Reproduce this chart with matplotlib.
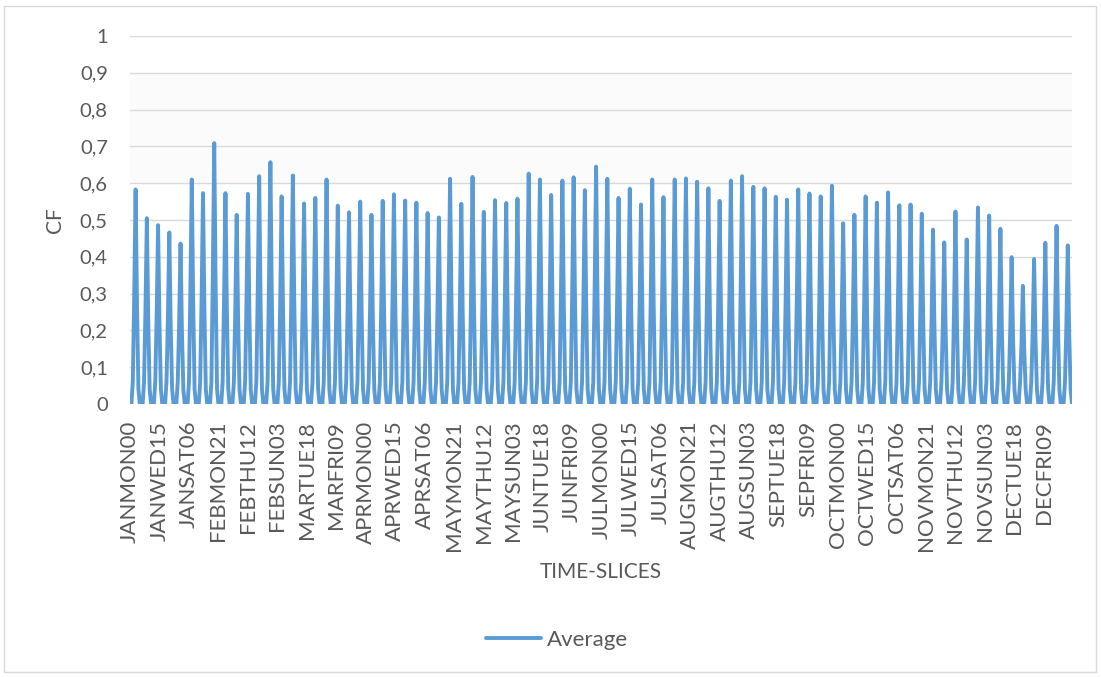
import matplotlib
matplotlib.use("Agg")
import matplotlib.pyplot as plt
from matplotlib.patches import Rectangle

plt.rcParams["font.family"] = ["Lato", "DejaVu Sans"]

# --- Datos: CF promedio por time-slice (8 franjas de 3 h por dia, 7 dias por mes) ---
months = ["JAN", "FEB", "MAR", "APR", "MAY", "JUN",
          "JUL", "AUG", "SEP", "OCT", "NOV", "DEC"]
days = ["MON", "TUE", "WED", "THU", "FRI", "SAT", "SUN"]
hours = ["00", "03", "06", "09", "12", "15", "18", "21"]

cf_jan = [0, 0, 0.06, 0.292, 0.583, 0.262, 0.04, 0,
          0, 0, 0.06, 0.253, 0.505, 0.227, 0.04, 0,
          0, 0, 0.06, 0.243, 0.486, 0.219, 0.04, 0,
          0, 0, 0.06, 0.233, 0.466, 0.210, 0.04, 0,
          0, 0, 0.06, 0.218, 0.436, 0.196, 0.04, 0,
          0, 0, 0.06, 0.305, 0.610, 0.275, 0.04, 0,
          0, 0, 0.06, 0.287, 0.573, 0.258, 0.04, 0]
cf_feb = [0, 0, 0.06, 0.355, 0.709, 0.319, 0.04, 0,
          0, 0, 0.06, 0.287, 0.573, 0.258, 0.04, 0,
          0, 0, 0.06, 0.257, 0.514, 0.231, 0.04, 0,
          0, 0, 0.06, 0.286, 0.571, 0.257, 0.04, 0,
          0, 0, 0.06, 0.310, 0.619, 0.279, 0.04, 0,
          0, 0, 0.06, 0.329, 0.657, 0.296, 0.04, 0,
          0, 0, 0.06, 0.282, 0.564, 0.254, 0.04, 0]
cf_mar = [0, 0, 0.06, 0.311, 0.621, 0.279, 0.04, 0,
          0, 0, 0.06, 0.273, 0.545, 0.245, 0.04, 0,
          0, 0, 0.06, 0.280, 0.560, 0.252, 0.04, 0,
          0, 0, 0.06, 0.305, 0.610, 0.275, 0.04, 0,
          0, 0, 0.06, 0.270, 0.539, 0.243, 0.04, 0,
          0, 0, 0.06, 0.261, 0.521, 0.234, 0.04, 0,
          0, 0, 0.06, 0.275, 0.550, 0.248, 0.04, 0]
cf_apr = [0, 0, 0.06, 0.257, 0.514, 0.231, 0.04, 0,
          0, 0, 0.06, 0.276, 0.552, 0.248, 0.04, 0,
          0, 0, 0.06, 0.285, 0.570, 0.257, 0.04, 0,
          0, 0, 0.06, 0.277, 0.553, 0.249, 0.04, 0,
          0, 0, 0.06, 0.274, 0.547, 0.246, 0.04, 0,
          0, 0, 0.06, 0.260, 0.519, 0.234, 0.04, 0,
          0, 0, 0.06, 0.254, 0.507, 0.228, 0.04, 0]
cf_may = [0, 0, 0.06, 0.306, 0.612, 0.275, 0.04, 0,
          0, 0, 0.06, 0.272, 0.544, 0.245, 0.04, 0,
          0, 0, 0.06, 0.309, 0.617, 0.278, 0.04, 0,
          0, 0, 0.06, 0.261, 0.522, 0.235, 0.04, 0,
          0, 0, 0.06, 0.277, 0.554, 0.249, 0.04, 0,
          0, 0, 0.06, 0.273, 0.546, 0.246, 0.04, 0,
          0, 0, 0.06, 0.279, 0.558, 0.251, 0.04, 0]
cf_jun = [0, 0, 0.06, 0.313, 0.626, 0.282, 0.04, 0,
          0, 0, 0.06, 0.305, 0.610, 0.275, 0.04, 0,
          0, 0, 0.06, 0.284, 0.568, 0.256, 0.04, 0,
          0, 0, 0.06, 0.304, 0.607, 0.273, 0.04, 0,
          0, 0, 0.06, 0.308, 0.616, 0.277, 0.04, 0,
          0, 0, 0.06, 0.291, 0.581, 0.261, 0.04, 0,
          0, 0, 0.06, 0.323, 0.645, 0.290, 0.04, 0]
cf_jul = [0, 0, 0.06, 0.306, 0.612, 0.275, 0.04, 0,
          0, 0, 0.06, 0.280, 0.560, 0.252, 0.04, 0,
          0, 0, 0.06, 0.293, 0.585, 0.263, 0.04, 0,
          0, 0, 0.06, 0.271, 0.542, 0.244, 0.04, 0,
          0, 0, 0.06, 0.305, 0.610, 0.275, 0.04, 0,
          0, 0, 0.06, 0.281, 0.562, 0.253, 0.04, 0,
          0, 0, 0.06, 0.305, 0.610, 0.275, 0.04, 0]
cf_aug = [0, 0, 0.06, 0.307, 0.613, 0.276, 0.04, 0,
          0, 0, 0.06, 0.302, 0.604, 0.272, 0.04, 0,
          0, 0, 0.06, 0.293, 0.586, 0.264, 0.04, 0,
          0, 0, 0.06, 0.276, 0.552, 0.248, 0.04, 0,
          0, 0, 0.06, 0.304, 0.607, 0.273, 0.04, 0,
          0, 0, 0.06, 0.310, 0.619, 0.279, 0.04, 0,
          0, 0, 0.06, 0.295, 0.590, 0.266, 0.04, 0]
cf_sep = [0, 0, 0.06, 0.293, 0.586, 0.264, 0.04, 0,
          0, 0, 0.06, 0.282, 0.563, 0.253, 0.04, 0,
          0, 0, 0.06, 0.278, 0.555, 0.250, 0.04, 0,
          0, 0, 0.06, 0.292, 0.583, 0.262, 0.04, 0,
          0, 0, 0.06, 0.286, 0.572, 0.257, 0.04, 0,
          0, 0, 0.06, 0.282, 0.564, 0.254, 0.04, 0,
          0, 0, 0.06, 0.297, 0.593, 0.267, 0.04, 0]
cf_oct = [0, 0, 0.06, 0.246, 0.491, 0.221, 0.04, 0,
          0, 0, 0.06, 0.257, 0.514, 0.231, 0.04, 0,
          0, 0, 0.06, 0.282, 0.564, 0.254, 0.04, 0,
          0, 0, 0.06, 0.274, 0.547, 0.246, 0.04, 0,
          0, 0, 0.06, 0.288, 0.575, 0.259, 0.04, 0,
          0, 0, 0.06, 0.270, 0.540, 0.243, 0.04, 0,
          0, 0, 0.06, 0.271, 0.542, 0.244, 0.04, 0]
cf_nov = [0, 0, 0.06, 0.259, 0.517, 0.233, 0.04, 0,
          0, 0, 0.06, 0.237, 0.474, 0.213, 0.04, 0,
          0, 0, 0.06, 0.220, 0.439, 0.198, 0.04, 0,
          0, 0, 0.06, 0.262, 0.523, 0.235, 0.04, 0,
          0, 0, 0.06, 0.224, 0.447, 0.201, 0.04, 0,
          0, 0, 0.06, 0.267, 0.534, 0.240, 0.04, 0,
          0, 0, 0.06, 0.256, 0.512, 0.230, 0.04, 0]
cf_dec = [0, 0, 0.06, 0.238, 0.476, 0.214, 0.04, 0,
          0, 0, 0.06, 0.200, 0.399, 0.180, 0.04, 0,
          0, 0, 0.06, 0.161, 0.321, 0.144, 0.04, 0,
          0, 0, 0.06, 0.197, 0.394, 0.177, 0.04, 0,
          0, 0, 0.06, 0.219, 0.438, 0.197, 0.04, 0,
          0, 0, 0.06, 0.242, 0.484, 0.218, 0.04, 0,
          0, 0, 0.06, 0.216, 0.431, 0.194, 0.04, 0]

cf = (cf_jan + cf_feb + cf_mar + cf_apr + cf_may + cf_jun +
      cf_jul + cf_aug + cf_sep + cf_oct + cf_nov + cf_dec)
slices = [m + d + h for m in months for d in days for h in hours]
x = list(range(len(slices)))

# --- Grafico ---
W, H = 1101, 677
fig = plt.figure(figsize=(W / 100, H / 100), dpi=100)
ax = fig.add_axes([130 / W, 1 - 404 / H, (1072 - 130) / W, (404 - 36) / H])

ax.axhspan(0.6, 0.9, facecolor="#fbfbfb", edgecolor="none", zorder=0)
ax.plot(x, cf, color="#5B9BD5", lw=2.8, solid_joinstyle="round",
        solid_capstyle="round", label="Average", zorder=3)

ax.set_xlim(0, len(slices) - 1)
ax.set_ylim(0, 1)
ax.set_yticks([i / 10 for i in range(11)])
ax.set_yticklabels(["0"] + ["0,%d" % i for i in range(1, 10)] + ["1"])
step = 21
ax.set_xticks(x[::step])
ax.set_xticklabels(slices[::step], rotation=90, va="top", ha="center")

ax.grid(axis="y", color="#d9d9d9", lw=1.0, zorder=1)
ax.set_axisbelow(True)
for s in ax.spines.values():
    s.set_visible(False)
ax.tick_params(axis="both", length=0, colors="#595959")
ax.tick_params(axis="y", pad=16, labelsize=14.5)
ax.tick_params(axis="x", pad=12, labelsize=16)

fig.text(55 / W, 1 - 220 / H, "CF", rotation=90, ha="center", va="center",
         fontsize=15, color="#595959")
fig.text(601 / W, 1 - 572 / H, "TIME-SLICES", ha="center", va="center",
         fontsize=15, color="#595959")

leg = ax.legend(loc="center", bbox_to_anchor=(557 / W, 1 - 640 / H),
                bbox_transform=fig.transFigure, frameon=False, fontsize=16,
                handlelength=2.5, handletextpad=0.25)
for t in leg.get_texts():
    t.set_color("#595959")

fig.patches.append(Rectangle((4 / W, 5 / H), (W - 9) / W, (H - 11) / H,
                             transform=fig.transFigure, fill=False,
                             edgecolor="#d9d9d9", lw=1.0))

fig.savefig("out.png", dpi=100)
